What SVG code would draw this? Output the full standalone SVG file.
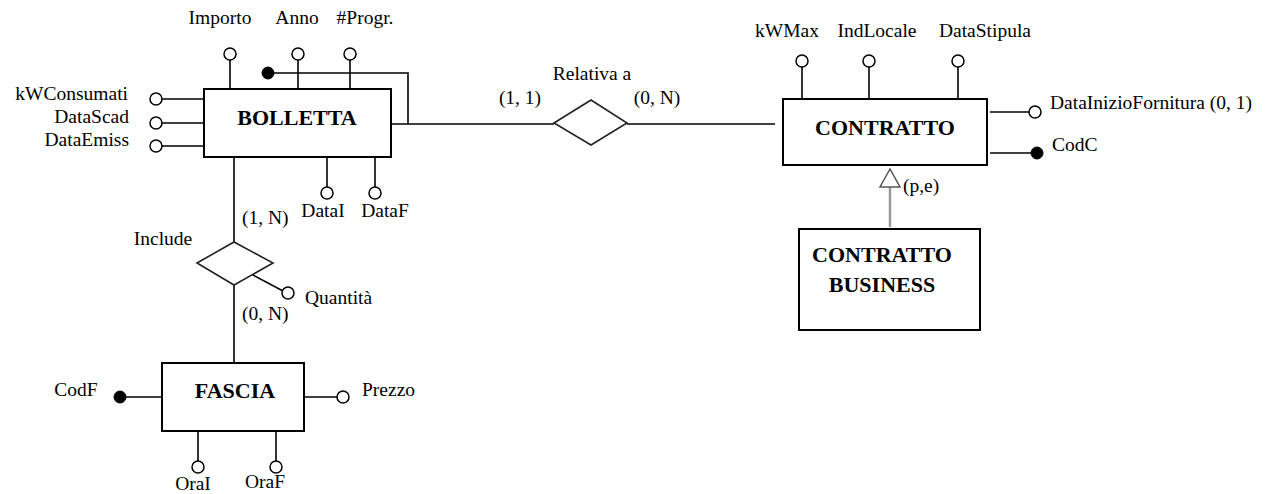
<svg xmlns="http://www.w3.org/2000/svg" width="1277" height="494" viewBox="0 0 1277 494">
<style>
.ent{fill:#fff;stroke:#000;stroke-width:2}
.rel{fill:#fff;stroke:#222;stroke-width:1.6}
.ln{stroke:#000;stroke-width:1.6;fill:none}
.gl{stroke:#999;stroke-width:2.5;fill:none}
.at{fill:#fff;stroke:#000;stroke-width:1.5}
.id{fill:#000;stroke:#000;stroke-width:1}
.t{font-family:"Liberation Serif",serif;font-size:19.5px;fill:#000}
.b{font-family:"Liberation Serif",serif;font-size:22px;font-weight:bold;fill:#000}
.m{text-anchor:middle}
.e{text-anchor:end}
</style>
<rect width="1277" height="494" fill="#fff"/>
<g id="connectors">
  <polyline class="ln" points="391,124 554,124"/>
  <polyline class="ln" points="627,124 775,124"/>
  <polyline class="ln" points="268,73 408,73 408,124"/>
  <line class="ln" x1="234" y1="157" x2="234" y2="242"/>
  <line class="ln" x1="234" y1="285" x2="234" y2="363"/>
  <line class="gl" x1="890" y1="187" x2="890" y2="227"/>
  <polygon points="890,169 880,187 900,187" fill="#fff" stroke="#555" stroke-width="1.5"/>
</g>
<g id="bolletta">
  <rect class="ent" x="204" y="89" width="187" height="68"/>
  <text class="b m" x="297" y="125">BOLLETTA</text>
</g>
<g id="bolletta-attrs">
  <line class="ln" x1="230" y1="60" x2="230" y2="89"/><circle class="at" cx="230" cy="54" r="6"/>
  <line class="ln" x1="298" y1="60" x2="298" y2="89"/><circle class="at" cx="298" cy="54" r="6"/>
  <line class="ln" x1="350" y1="60" x2="350" y2="89"/><circle class="at" cx="350" cy="54" r="6"/>
  <circle class="id" cx="268" cy="73" r="6"/>
  <text class="t m" x="220" y="24">Importo</text>
  <text class="t m" x="297" y="24">Anno</text>
  <text class="t m" x="365" y="24">#Progr.</text>
  <line class="ln" x1="162" y1="99" x2="204" y2="99"/><circle class="at" cx="156" cy="99" r="6"/>
  <line class="ln" x1="162" y1="123" x2="204" y2="123"/><circle class="at" cx="156" cy="123" r="6"/>
  <line class="ln" x1="162" y1="146" x2="204" y2="146"/><circle class="at" cx="156" cy="146" r="6"/>
  <text class="t e" x="128" y="100">kWConsumati</text>
  <text class="t e" x="129" y="123">DataScad</text>
  <text class="t e" x="129" y="146">DataEmiss</text>
  <line class="ln" x1="327" y1="157" x2="327" y2="187"/><circle class="at" cx="327" cy="193" r="6"/>
  <line class="ln" x1="375" y1="157" x2="375" y2="187"/><circle class="at" cx="375" cy="193" r="6"/>
  <text class="t m" x="323" y="217">DataI</text>
  <text class="t m" x="385" y="217">DataF</text>
</g>
<g id="relativa-a">
  <polygon class="rel" points="554,123 591,100 627,123 591,145"/>
  <text class="t m" x="592" y="80">Relativa a</text>
  <text class="t m" x="520" y="104">(1, 1)</text>
  <text class="t m" x="657" y="104">(0, N)</text>
</g>
<g id="contratto">
  <rect class="ent" x="783" y="99" width="204" height="66"/>
  <text class="b m" x="885" y="135">CONTRATTO</text>
  <line class="ln" x1="802" y1="67" x2="802" y2="99"/><circle class="at" cx="802" cy="61" r="6"/>
  <line class="ln" x1="869" y1="67" x2="869" y2="99"/><circle class="at" cx="869" cy="61" r="6"/>
  <line class="ln" x1="958" y1="67" x2="958" y2="99"/><circle class="at" cx="958" cy="61" r="6"/>
  <text class="t m" x="787" y="37">kWMax</text>
  <text class="t m" x="877" y="37">IndLocale</text>
  <text class="t m" x="985" y="37">DataStipula</text>
  <line class="ln" x1="990" y1="112" x2="1029" y2="112"/><circle class="at" cx="1035" cy="112" r="6"/>
  <text class="t" x="1050" y="109">DataInizioFornitura (0, 1)</text>
  <line class="ln" x1="990" y1="153" x2="1037" y2="153"/><circle class="id" cx="1037" cy="153" r="6"/>
  <text class="t" x="1052" y="151">CodC</text>
  <text class="t" x="903" y="192">(p,e)</text>
</g>
<g id="contratto-business">
  <rect class="ent" x="799" y="229" width="181" height="101"/>
  <text class="b m" x="882" y="262">CONTRATTO</text>
  <text class="b m" x="882" y="292">BUSINESS</text>
</g>
<g id="include">
  <polygon class="rel" points="197,263 234,242 273,263 234,285"/>
  <text class="t m" x="163" y="245">Include</text>
  <text class="t" x="242" y="224">(1, N)</text>
  <text class="t" x="242" y="320">(0, N)</text>
  <line class="ln" x1="253" y1="275" x2="283" y2="291"/><circle class="at" cx="288" cy="293" r="6"/>
  <text class="t" x="305" y="304">Quantità</text>
</g>
<g id="fascia">
  <rect class="ent" x="162" y="363" width="142" height="68"/>
  <text class="b m" x="235" y="398">FASCIA</text>
  <line class="ln" x1="120" y1="397" x2="162" y2="397"/><circle class="id" cx="120" cy="397" r="6"/>
  <text class="t m" x="76" y="396">CodF</text>
  <line class="ln" x1="304" y1="397" x2="337" y2="397"/><circle class="at" cx="343" cy="397" r="6"/>
  <text class="t" x="362" y="396">Prezzo</text>
  <line class="ln" x1="198" y1="431" x2="198" y2="461"/><circle class="at" cx="198" cy="467" r="6"/>
  <line class="ln" x1="276" y1="431" x2="276" y2="461"/><circle class="at" cx="276" cy="467" r="6"/>
  <text class="t m" x="193" y="490">OraI</text>
  <text class="t m" x="265" y="488">OraF</text>
</g>
</svg>
